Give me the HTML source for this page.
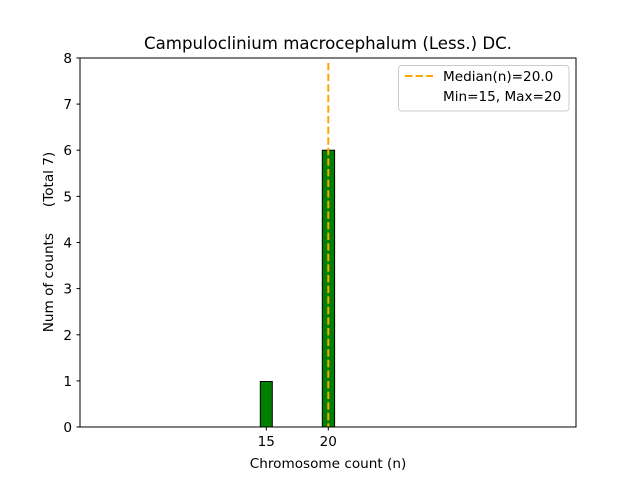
<!DOCTYPE html>
<html><head><style>body{margin:0;background:#fff}svg text{font-family:"DejaVu Sans","Liberation Sans",sans-serif;fill:#000}</style></head>
<body>
<svg width="640" height="480" viewBox="0 0 640 480" xmlns="http://www.w3.org/2000/svg">
<rect width="640" height="480" fill="#fff"/>
<line x1="80" y1="427" x2="372" y2="427" stroke="#bbb" stroke-width="1"/>
<rect x="260.3" y="381.5" width="12" height="45.5" fill="#008000" stroke="#000" stroke-width="1"/>
<rect x="322.3" y="150.2" width="12.3" height="276.8" fill="#008000" stroke="#000" stroke-width="1"/>
<line x1="328.3" y1="63" x2="328.3" y2="427" stroke="#ffa500" stroke-width="2" stroke-dasharray="7.4,3.2"/>
<rect x="80" y="58" width="496" height="369" fill="none" stroke="#000" stroke-width="1"/>
<g font-size="13.6" text-anchor="end">
<line x1="76.5" y1="427" x2="80" y2="427" stroke="#000"/><text x="72" y="432">0</text>
<line x1="76.5" y1="380.9" x2="80" y2="380.9" stroke="#000"/><text x="72" y="385.9">1</text>
<line x1="76.5" y1="334.8" x2="80" y2="334.8" stroke="#000"/><text x="72" y="339.8">2</text>
<line x1="76.5" y1="288.6" x2="80" y2="288.6" stroke="#000"/><text x="72" y="293.6">3</text>
<line x1="76.5" y1="242.5" x2="80" y2="242.5" stroke="#000"/><text x="72" y="247.5">4</text>
<line x1="76.5" y1="196.4" x2="80" y2="196.4" stroke="#000"/><text x="72" y="201.4">5</text>
<line x1="76.5" y1="150.2" x2="80" y2="150.2" stroke="#000"/><text x="72" y="155.2">6</text>
<line x1="76.5" y1="104.1" x2="80" y2="104.1" stroke="#000"/><text x="72" y="109.1">7</text>
<line x1="76.5" y1="58" x2="80" y2="58" stroke="#000"/><text x="72" y="63">8</text>
</g>
<g font-size="13.6" text-anchor="middle">
<line x1="266.3" y1="427" x2="266.3" y2="430.5" stroke="#000"/><text x="266.3" y="446">15</text>
<line x1="328.3" y1="427" x2="328.3" y2="430.5" stroke="#000"/><text x="328.3" y="446">20</text>
<text x="328" y="468">Chromosome count (n)</text>
<text x="328" y="49" font-size="16.6">Campuloclinium macrocephalum (Less.) DC.</text>
<text transform="translate(53,242) rotate(-90)" style="white-space:pre">Num of counts      (Total 7)</text>
</g>
<rect x="398.5" y="65.5" width="170.5" height="45.5" rx="3" fill="#fff" fill-opacity="0.8" stroke="#ccc"/>
<line x1="405" y1="76" x2="433" y2="76" stroke="#ffa500" stroke-width="2" stroke-dasharray="7.4,3.2"/>
<text x="443" y="81" font-size="13.6">Median(n)=20.0</text>
<text x="443" y="101" font-size="13.6">Min=15, Max=20</text>
</svg>
</body></html>
